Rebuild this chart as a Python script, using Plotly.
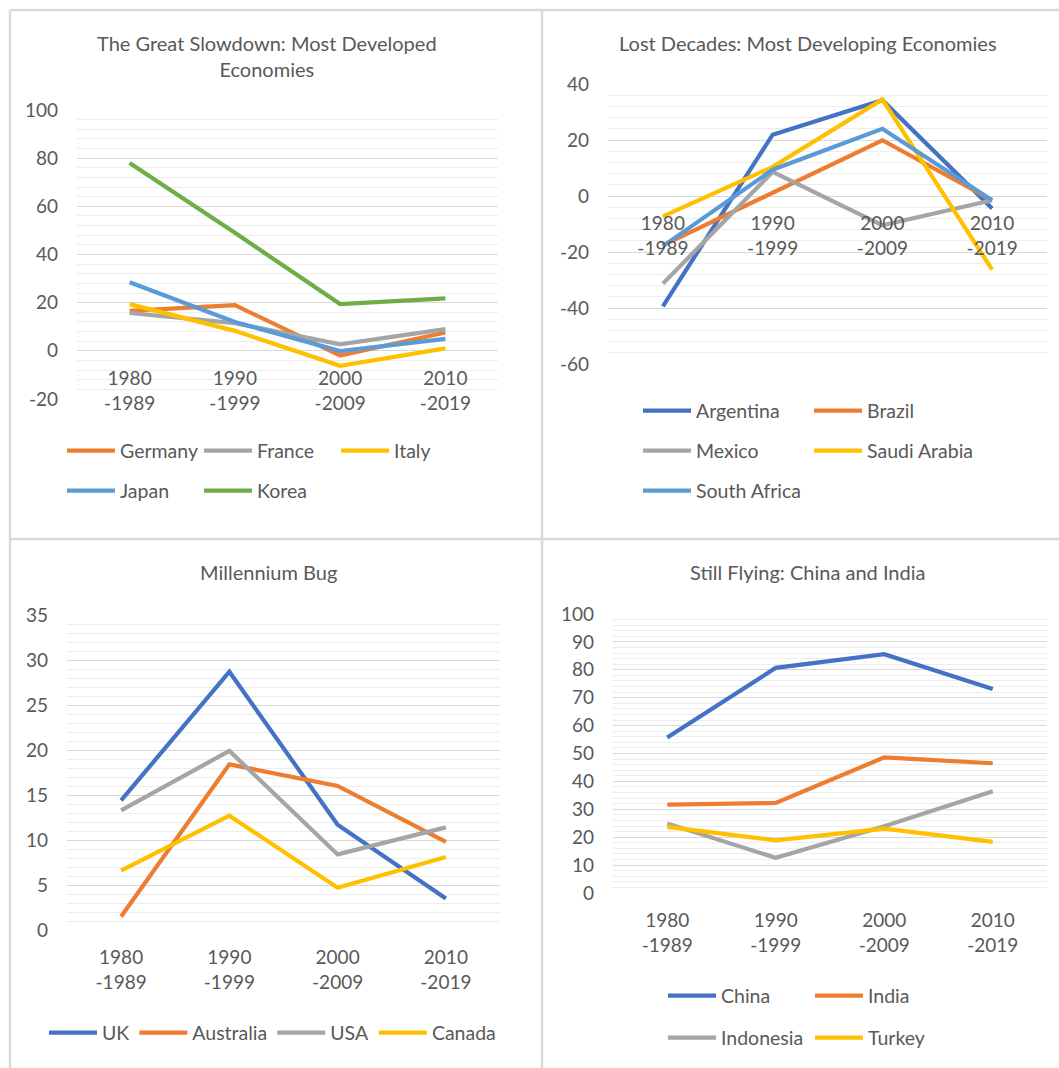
import plotly.graph_objects as go

W, H = 1059, 1068

# ---------------- data ----------------
periods = ["1980<br>-1989", "1990<br>-1999", "2000<br>-2009", "2010<br>-2019"]

# Panel 1: The Great Slowdown
germany = [16.6, 19.0, -2.0, 7.6]
france = [15.7, 11.5, 2.7, 9.0]
italy = [19.4, 8.3, -6.2, 1.0]
japan = [28.5, 12.0, -0.1, 5.0]
korea = [78.0, 49.0, 19.4, 21.8]

# Panel 2: Lost Decades
argentina = [-39.4, 21.9, 34.2, -4.5]
brazil = [-17.6, 1.1, 19.9, -1.5]
mexico = [-31.3, 8.6, -10.5, -1.5]
saudi_arabia = [-7.3, 10.4, 34.5, -26.3]
south_africa = [-17.9, 9.4, 24.0, -1.5]

# Panel 3: Millennium Bug
uk = [14.4, 28.7, 11.7, 3.5]
australia = [1.5, 18.4, 16.0, 9.8]
usa = [13.3, 19.9, 8.4, 11.4]
canada = [6.6, 12.7, 4.7, 8.1]

# Panel 4: Still Flying
china = [55.7, 80.7, 85.6, 73.1]
india = [31.7, 32.3, 48.6, 46.5]
indonesia = [24.9, 12.6, 23.9, 36.5]
turkey = [23.7, 18.9, 23.1, 18.3]

# y-axis tick values (labels shown with a plain hyphen minus)
yticks_1 = [-20, 0, 20, 40, 60, 80, 100]
yticks_2 = [-60, -40, -20, 0, 20, 40]
yticks_3 = [0, 5, 10, 15, 20, 25, 30, 35]
yticks_4 = [0, 10, 20, 30, 40, 50, 60, 70, 80, 90, 100]

titles = ["The Great Slowdown: Most Developed<br>Economies",
          "Lost Decades: Most Developing Economies",
          "Millennium Bug",
          "Still Flying: China and India"]

# ---------------- style ----------------
BLUE = "#4472C4"
ORANGE = "#ED7D31"
GRAY = "#A5A5A5"
GOLD = "#FFC000"
LBLUE = "#5B9BD5"
GREEN = "#70AD47"
TXT = "#595959"
FONT = "Lato"
FS = 19
LW = 4.2


def px(x):
    return x / W


def py(y):
    return 1 - y / H


fig = go.Figure()

series = [
    # (panel, name, values, color, legend)
    (1, "Germany", germany, ORANGE, "legend"),
    (1, "France", france, GRAY, "legend"),
    (1, "Italy", italy, GOLD, "legend"),
    (1, "Japan", japan, LBLUE, "legend2"),
    (1, "Korea", korea, GREEN, "legend2"),
    (2, "Argentina", argentina, BLUE, "legend3"),
    (2, "Brazil", brazil, ORANGE, "legend3"),
    (2, "Mexico", mexico, GRAY, "legend4"),
    (2, "Saudi Arabia", saudi_arabia, GOLD, "legend4"),
    (2, "South Africa", south_africa, LBLUE, "legend5"),
    (3, "UK", uk, BLUE, "legend6"),
    (3, "Australia", australia, ORANGE, "legend6"),
    (3, "USA", usa, GRAY, "legend6"),
    (3, "Canada", canada, GOLD, "legend6"),
    (4, "China", china, BLUE, "legend7"),
    (4, "India", india, ORANGE, "legend7"),
    (4, "Indonesia", indonesia, GRAY, "legend8"),
    (4, "Turkey", turkey, GOLD, "legend8"),
]

for p, name, vals, col, leg in series:
    sfx = "" if p == 1 else str(p)
    fig.add_trace(go.Scatter(
        x=periods, y=vals, name=name, mode="lines",
        line=dict(color=col, width=LW),
        xaxis="x" + sfx, yaxis="y" + sfx, legend=leg,
        hoverinfo="skip",
    ))

# panel geometry (pixels): plot-area left/right, top/bottom
panels = [
    dict(x=(77, 498), y=(110, 399), ticks=yticks_1, minor=4, free=True),
    dict(x=(608, 1047), y=(84, 364), ticks=yticks_2, minor=4, free=True),
    dict(x=(67, 500), y=(615, 930), ticks=yticks_3, minor=1, free=False),
    dict(x=(613, 1047), y=(614, 893), ticks=yticks_4, minor=2, free=False),
]

layout = dict(
    width=W, height=H,
    margin=dict(l=0, r=0, t=0, b=0, autoexpand=False),
    paper_bgcolor="white", plot_bgcolor="white",
    font=dict(family=FONT, size=FS, color=TXT),
    hovermode=False,
)

for i, pn in enumerate(panels, start=1):
    sfx = "" if i == 1 else str(i)
    xd = [px(pn["x"][0]), px(pn["x"][1])]
    yd = [py(pn["y"][1]), py(pn["y"][0])]
    tv = pn["ticks"]
    lo, hi = min(tv), max(tv)
    xa = dict(
        domain=xd, type="category", categoryorder="array", categoryarray=periods,
        range=[-0.5, 3.5], showgrid=False, zeroline=False, showline=False,
        ticks="", tickfont=dict(family=FONT, size=FS, color=TXT),
        ticklabelstandoff=14, fixedrange=True,
    )
    if pn["free"]:
        xa["anchor"] = "free"
        xa["position"] = yd[0] + (0 - lo) / (hi - lo) * (yd[1] - yd[0])
    else:
        xa["anchor"] = "y" + sfx
    ya = dict(
        domain=yd, range=[lo, hi], tickmode="array", tickvals=tv,
        ticktext=[str(v) for v in tv],
        showgrid=True, gridcolor="#D9D9D9", gridwidth=1,
        zeroline=False, showline=False, ticks="",
        tickfont=dict(family=FONT, size=FS, color=TXT),
        ticklabelstandoff=18, anchor="x" + sfx, fixedrange=True,
        minor=dict(tickmode="linear", dtick=pn["minor"], tick0=0, showgrid=True,
                   gridcolor="#EDEDED", gridwidth=1, ticks=""),
    )
    layout["xaxis" + sfx] = xa
    layout["yaxis" + sfx] = ya

# legends: (key, line-start x px, row-centre y px, entrywidth)
legends = [
    ("legend", 67, 451, 74),
    ("legend2", 67, 491, 74),
    ("legend3", 643, 411, 108),
    ("legend4", 643, 451, 108),
    ("legend5", 643, 491, 108),
    ("legend6", 49, 1033, 0),
    ("legend7", 668, 996, 84),
    ("legend8", 668, 1038, 84),
]
for key, lx, ly, ew in legends:
    d = dict(
        x=px(lx - 5), y=py(ly), xanchor="left", yanchor="middle",
        orientation="h", bgcolor="rgba(0,0,0,0)", borderwidth=0,
        font=dict(family=FONT, size=19.5, color=TXT), itemwidth=48,
        itemclick=False, itemdoubleclick=False,
    )
    if ew:
        d["entrywidth"] = ew
        d["entrywidthmode"] = "pixels"
    layout[key] = d

# chart titles
title_pos = [(267, 56), (808, 43), (268, 572), (807, 572)]
annotations = []
for t, (tx, ty) in zip(titles, title_pos):
    annotations.append(dict(
        text=t, x=px(tx), y=py(ty), xref="paper", yref="paper",
        xanchor="center", yanchor="middle", showarrow=False,
        font=dict(family=FONT, size=20, color=TXT),
    ))
layout["annotations"] = annotations

# chart-box borders
BC = "#D9D9D9"
shapes = []
for (x0, y0, x1, y1) in [(10, 10, W, 10), (10, 539, W, 539),
                         (10, 10, 10, H), (542, 10, 542, H)]:
    shapes.append(dict(type="line", xref="paper", yref="paper",
                       x0=px(x0), y0=py(y0), x1=px(x1), y1=py(y1),
                       line=dict(color=BC, width=2.5)))
layout["shapes"] = shapes

fig.update_layout(**layout)

post = ("document.body.style.margin='0';document.body.style.padding='0';"
        "document.documentElement.style.overflow='hidden';"
        "var d=document.getElementById('{plot_id}');"
        "d.style.position='absolute';d.style.left='0px';d.style.top='0px';")
fig.write_html("out.html", post_script=post, config={"displayModeBar": False})
